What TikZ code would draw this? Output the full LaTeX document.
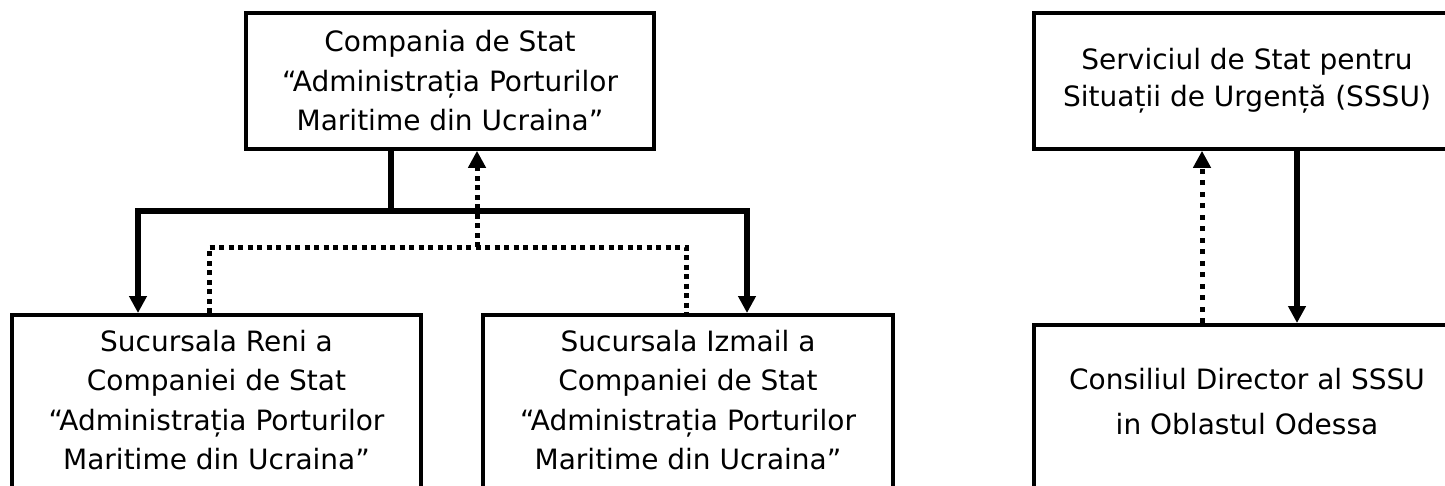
\documentclass[tikz,border=0pt]{standalone}
\usepackage{fontspec}
\setmainfont{DejaVu Sans}
\usetikzlibrary{arrows.meta}

\tikzset{
  box/.style={draw, line width=3.6pt, align=center, inner xsep=0pt},
  lowbox/.style={box, anchor=north, inner ysep=10pt, text height=145pt, text depth=60pt},
  solidlink/.style={line width=5.5pt},
  dotlink/.style={line width=5pt, dash pattern=on 5pt off 4.5pt},
  tip/.style={-{Triangle[width=17pt,length=17pt]}}
}

\begin{document}
\begin{tikzpicture}[x=1pt,y=-1pt,font=\fontsize{28}{39.5}\selectfont]
  \useasboundingbox (0,0) rectangle (1445,485);

  %%% company and its branches
  \node[box, minimum width=408pt, minimum height=136pt] (cs) at (450,81)
    {Compania de Stat\\“Administrația Porturilor\\Maritime din Ucraina”};
  \node[lowbox, minimum width=409pt] (reni) at (216.5,313)
    {Sucursala Reni a\\Companiei de Stat\\“Administrația Porturilor\\Maritime din Ucraina”};
  \node[lowbox, minimum width=410pt] (izmail) at (688,313)
    {Sucursala Izmail a\\Companiei de Stat\\“Administrația Porturilor\\Maritime din Ucraina”};

  \coordinate (trunk) at (391,211);
  \coordinate (reniin) at (138,0);
  \coordinate (izmin) at (747,0);
  \coordinate (dotbar) at (477,247);
  \coordinate (reniout) at (209,0);
  \coordinate (izmout) at (686,0);

  \draw[solidlink] (cs.south -| trunk) -- (trunk);
  \draw[solidlink, tip] (trunk) -| (reni.north -| reniin);
  \draw[solidlink, tip] (trunk) -| (izmail.north -| izmin);
  \draw[dotlink] (reni.north -| reniout) |- (dotbar) -| (izmail.north -| izmout);
  \draw[dotlink, tip] (dotbar) -- (cs.south -| dotbar);

  %%% emergency service
  \node[box, minimum width=426pt, minimum height=136pt, font=\fontsize{28}{37}\selectfont] (sssu) at (1247,81)
    {Serviciul de Stat pentru\\Situații de Urgență (SSSU)};
  \node[lowbox, minimum width=426pt, text height=100pt, font=\fontsize{28}{45}\selectfont] (odesa) at (1247,323)
    {Consiliul Director al SSSU\\in Oblastul Odessa};

  \coordinate (up) at (1202,0);
  \coordinate (down) at (1297,0);

  \draw[dotlink, tip, dash pattern=on 5pt off 6.5pt] (odesa.north -| up) -- (sssu.south -| up);
  \draw[solidlink, tip] (sssu.south -| down) -- (odesa.north -| down);
\end{tikzpicture}
\end{document}
